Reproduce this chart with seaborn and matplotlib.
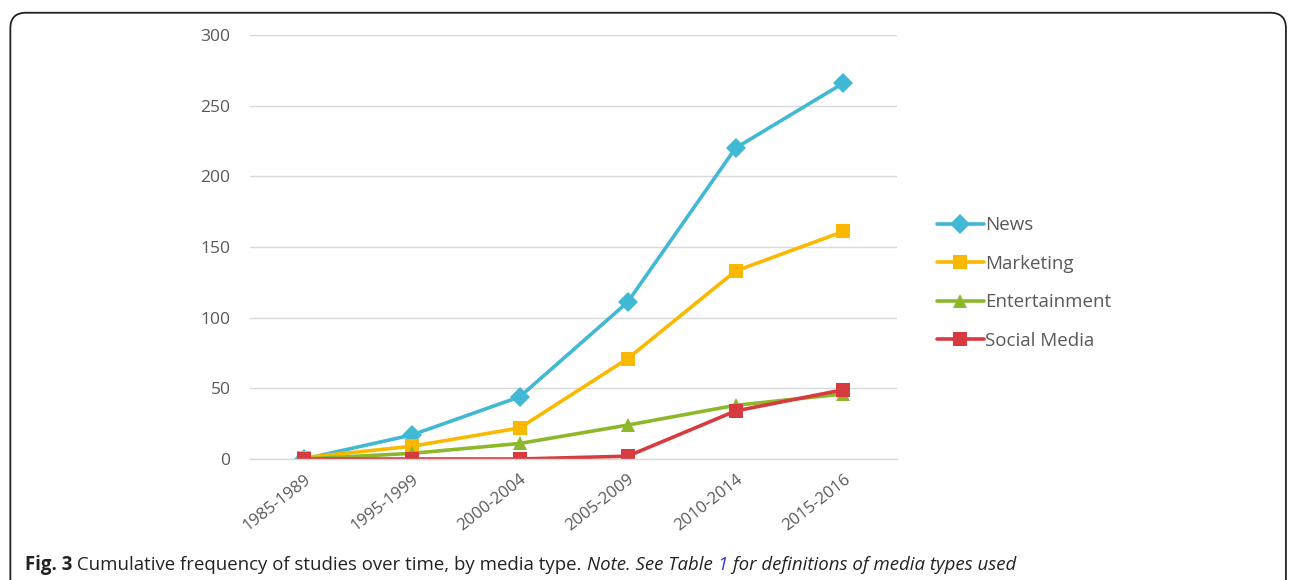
import pandas as pd
import matplotlib
matplotlib.use("Agg")
import matplotlib.pyplot as plt
from matplotlib.patches import FancyBboxPatch
import seaborn as sns

# --- Data ---
periods = ["1985-1989", "1995-1999", "2000-2004", "2005-2009", "2010-2014", "2015-2016"]
news          = [0, 17, 44, 111, 220, 266]
marketing     = [1, 9, 22, 71, 133, 161]
entertainment = [0, 4, 11, 24, 38, 46]
social_media  = [0, 0, 0, 2, 34, 49]
series_names  = ["News", "Marketing", "Entertainment", "Social Media"]
y_ticks       = [0, 50, 100, 150, 200, 250, 300]

colors  = {"News": "#41B8D4", "Marketing": "#FBB800", "Entertainment": "#8DB82A", "Social Media": "#D73A3F"}
markers = {"News": "D", "Marketing": "s", "Entertainment": "^", "Social Media": "s"}

rows = []
for name, vals in zip(series_names, [news, marketing, entertainment, social_media]):
    for p, v in zip(periods, vals):
        rows.append({"Period": p, "Count": v, "Type": name})
df = pd.DataFrame(rows)

sns.set_style("white")
plt.rcParams["font.family"] = ["Open Sans", "DejaVu Sans"]

fig = plt.figure(figsize=(12.95, 5.8), dpi=100)
ax = fig.add_axes([0.193, 0.2086, 0.5, 0.7311])

sns.lineplot(data=df, x="Period", y="Count", hue="Type", style="Type",
             palette=colors, markers=markers, dashes=False, linewidth=2.6,
             markersize=10, markeredgewidth=0, sort=False, ax=ax)

ax.set_xlim(-0.5, 5.5)
ax.set_ylim(0, 300)
ax.set_yticks(y_ticks)
ax.set_yticklabels([str(t) for t in y_ticks], fontsize=12.5, color="#595959")
ax.set_xticks(range(len(periods)))
ax.set_xticklabels(periods, rotation=38, ha="right", rotation_mode="anchor",
                   fontsize=12, color="#595959")
ax.tick_params(axis="y", length=0, pad=14)
ax.tick_params(axis="x", length=0, pad=9)
ax.yaxis.grid(True, color="#D9D9D9", linewidth=1)
ax.set_axisbelow(True)
for s in ["top", "right", "left"]:
    ax.spines[s].set_visible(False)
ax.spines["bottom"].set_color("#D9D9D9")
ax.spines["bottom"].set_linewidth(1)
ax.set_xlabel("")
ax.set_ylabel("")

leg = ax.legend(loc="center left", bbox_to_anchor=(1.035, 0.415), frameon=False,
                fontsize=13.5, handlelength=2.5, labelspacing=1.1, handletextpad=0.05,
                markerscale=1.0)
for t in leg.get_texts():
    t.set_color("#595959")

# rounded frame around the figure
frame = FancyBboxPatch((0.008, -0.1), 0.985, 1.078, boxstyle="round,pad=0,rounding_size=0.012",
                       transform=fig.transFigure, fill=False, edgecolor="#222222",
                       linewidth=1.3, mutation_aspect=1295 / 580)
fig.patches.append(frame)

# caption built from pieces
fig.canvas.draw()
renderer = fig.canvas.get_renderer()
pieces = [("Fig. 3", "bold", "normal", "#222222"),
          (" Cumulative frequency of studies over time, by media type. ", "normal", "normal", "#222222"),
          ("Note. See Table ", "normal", "italic", "#222222"),
          ("1", "normal", "italic", "#2B3FD6"),
          (" for definitions of media types used", "normal", "italic", "#222222")]
x = 25
for txt, weight, style, col in pieces:
    t = fig.text(x / 1295, 1 - 565 / 580, txt, fontsize=13.4, fontweight=weight,
                 fontstyle=style, color=col, va="center", ha="left",
                 family=["Open Sans", "DejaVu Sans"], fontstretch="normal")
    bb = t.get_window_extent(renderer)
    x += bb.width

fig.savefig("out.png", dpi=100)
